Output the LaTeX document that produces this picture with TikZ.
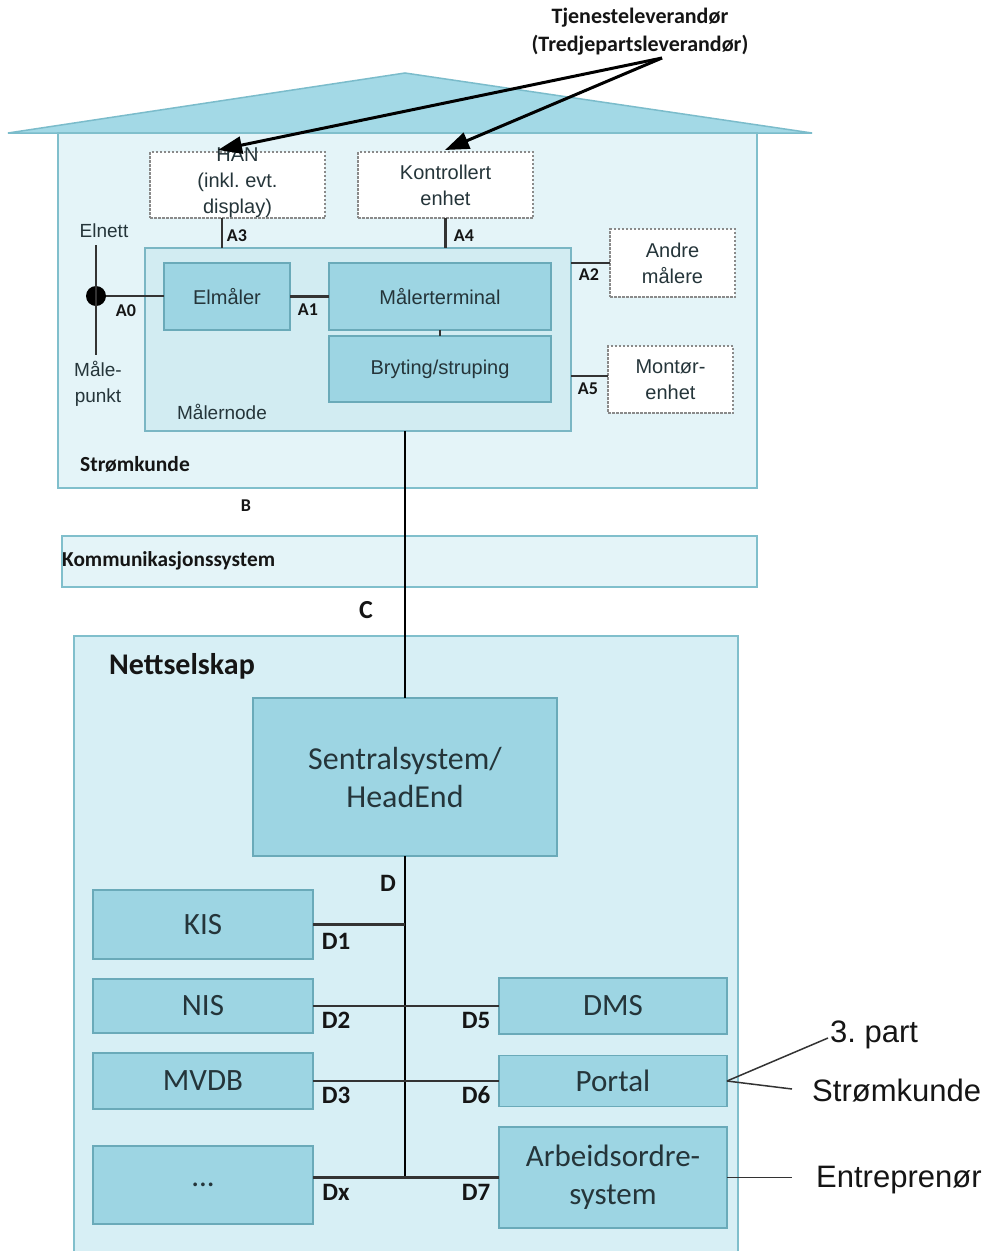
\documentclass[tikz,border=0pt]{standalone}
\usepackage{fontspec}
\setmainfont{Carlito}
\newfontfamily\arialf{Liberation Sans}
\usetikzlibrary{arrows.meta}
\definecolor{roofc}{HTML}{A3D9E6}
\definecolor{roofl}{HTML}{7BBCCB}
\definecolor{housec}{HTML}{E4F4F8}
\definecolor{housel}{HTML}{80BFCC}
\definecolor{nodec}{HTML}{D2ECF2}
\definecolor{nodel}{HTML}{7AB6C4}
\definecolor{innerc}{HTML}{9DD5E3}
\definecolor{innerl}{HTML}{6AAAB9}
\definecolor{netc}{HTML}{D7EFF5}
\definecolor{dashc}{HTML}{8A8A8A}
\definecolor{boxtext}{HTML}{25353A}
\definecolor{labtext}{HTML}{151515}
\definecolor{connc}{HTML}{333333}
\begin{document}
\begin{tikzpicture}[x=1pt,y=-1pt,
  area/.style={draw=housel,fill=housec,line width=1.5pt,inner sep=0pt,outer sep=0pt},
  mnodestyle/.style={draw=nodel,fill=nodec,line width=1.5pt,inner sep=0pt,outer sep=0pt},
  netstyle/.style={draw=housel,fill=netc,line width=1.5pt,inner sep=0pt,outer sep=0pt},
  inbox/.style={draw=innerl,fill=innerc,line width=1.5pt,inner sep=0pt,outer sep=0pt,text=boxtext,align=center},
  smallin/.style={inbox,font={\arialf\fontsize{20}{24}\selectfont}},
  bigin/.style={inbox,font={\fontsize{31}{38}\selectfont}},
  dbox/.style={draw=dashc,fill=white,dash pattern=on 2.5pt off 1.5pt,line width=1.2pt,inner sep=0pt,outer sep=0pt,
    text=boxtext,align=center,font={\arialf\fontsize{20}{26}\selectfont}},
  lab/.style={inner sep=0pt,text=labtext,font={\bfseries\fontsize{18}{20}\selectfont}},
  dlab/.style={inner sep=0pt,text=labtext,font={\bfseries\fontsize{25}{28}\selectfont}},
  plain/.style={inner sep=0pt,text=boxtext,align=center,font={\arialf\fontsize{19}{26}\selectfont}},
  ext/.style={inner sep=0pt,anchor=west,text=labtext,font={\arialf\fontsize{31}{34}\selectfont}},
  conn/.style={draw=connc,line width=2.5pt},
  bus/.style={draw=black,line width=2pt},
  bigarrow/.style={draw=black,line width=3pt,-{Triangle[length=24pt,width=17pt]}}
]
\useasboundingbox (0,0) rectangle (992,1251);
\fill[white] (0,0) rectangle (992,1251);

% house
\draw[fill=roofc,draw=roofl,line width=1.5pt] (8,133) -- (405,73) -- (812,133) -- cycle;
\node[area,minimum width=699pt,minimum height=355pt] (house) at (407.5,310.5) {};

% top text and arrow source
\node[inner sep=0pt,align=center,text=labtext,font={\bfseries\fontsize{22}{28}\selectfont}] (tj) at (640,32)
  {Tjenesteleverandør\\(Tredjepartsleverandør)};
\coordinate (src) at (662,58);
\coordinate (hantip) at (218,150);
\coordinate (kontip) at (445,150);

% dashed boxes
\node[dbox,minimum width=175pt,minimum height=66pt] (han) at (237.5,185) {};
\node[inner sep=0pt,align=center,text=boxtext,font={\arialf\fontsize{20}{26}\selectfont}] (hantext) at (237.5,183) {HAN\\(inkl.\ evt.\\display)};
\node[dbox,minimum width=175pt,minimum height=66pt] (kon) at (445.5,185) {Kontrollert\\enhet};
\node[dbox,minimum width=125pt,minimum height=68pt] (andre) at (672.5,263) {Andre\\målere};
\node[dbox,minimum width=125pt,minimum height=67pt] (montor) at (670.5,379.5) {Montør-\\enhet};

% maalernode
\node[mnodestyle,minimum width=426pt,minimum height=183pt] (mnode) at (358,339.5) {};
\node[smallin,minimum width=126pt,minimum height=67pt] (elm) at (227,296.5) {Elmåler};
\node[smallin,minimum width=222pt,minimum height=67pt] (term) at (440,296.5) {Målerterminal};
\node[smallin,minimum width=222pt,minimum height=66pt] (bryt) at (440,369) {Bryting/struping};
\node[plain] (mnlab) at (222,412) {Målernode};

% Elnett / maalepunkt
\node[plain] (elnett) at (104,231) {Elnett};
\node[plain] (malep) at (98,384) {Måle-\\punkt};
\node[circle,fill=black,inner sep=0pt,minimum size=20pt] (dot) at (96,296) {};
\coordinate (eltop) at (96,245);
\coordinate (elbot) at (96,355);
\draw[conn] (eltop) -- (elbot);
\draw[conn] (dot) -- (elm.west |- dot);

% connectors in house
\coordinate (a3x) at (222,0);
\coordinate (a5y) at (0,376);
\draw[conn] (han.south -| a3x) -- (mnode.north -| a3x);
\draw[conn] (kon.south) -- (kon.south |- mnode.north);
\draw[conn] (elm.east) -- (term.west);
\draw[conn] (term.south) -- (bryt.north);
\draw[conn] (mnode.east |- andre.west) -- (andre.west);
\draw[conn] (mnode.east |- a5y) -- (montor.west |- a5y);

% labels in house
\node[lab] (la3) at (237,236) {A3};
\node[lab] (la4) at (464,236) {A4};
\node[lab] (la0) at (126,311) {A0};
\node[lab] (la1) at (308,310) {A1};
\node[lab] (la2) at (589,275) {A2};
\node[lab] (la5) at (588,389) {A5};
\node[inner sep=0pt,text=labtext,font={\bfseries\fontsize{21.5}{22}\selectfont}] (strk) at (135,464) {Strømkunde};

% B, communication system, C
\node[lab] (lb) at (246,506) {B};
\node[area,minimum width=695pt,minimum height=51pt] (komm) at (409.5,561.5) {};
\node[inner sep=0pt,anchor=west,text=labtext,font={\bfseries\fontsize{21.3}{22}\selectfont}] (kommlab) at (62,561) {Kommunikasjonssystem};
\node[inner sep=0pt,text=labtext,font={\bfseries\fontsize{26}{28}\selectfont}] (lc) at (366,610) {C};

% Nettselskap
\node[netstyle,minimum width=664pt,minimum height=626pt] (net) at (406,949) {};
\node[inner sep=0pt,text=labtext,font={\bfseries\fontsize{30}{32}\selectfont}] (netlab) at (182,666) {Nettselskap};
\node[bigin,minimum width=304pt,minimum height=158pt,font={\fontsize{32}{38}\selectfont}] (sent) at (405,777) {Sentralsystem/\\HeadEnd};
\node[bigin,minimum width=220pt,minimum height=69pt] (kis) at (203,924.5) {KIS};
\node[bigin,minimum width=220pt,minimum height=54pt] (nis) at (203,1006) {NIS};
\node[bigin,minimum width=220pt,minimum height=56pt] (mvdb) at (203,1081) {MVDB};
\node[bigin,minimum width=220pt,minimum height=78pt] (dots) at (203,1185) {...};
\node[bigin,minimum width=228pt,minimum height=56pt] (dms) at (613,1006) {DMS};
\node[bigin,minimum width=228pt,minimum height=51pt] (portal) at (613,1081) {Portal};
\node[bigin,minimum width=228pt,minimum height=101pt] (arb) at (613,1177.5) {Arbeidsordre-\\system};

% main vertical line and bus
\draw[bus] (sent.north |- mnode.south) -- (sent.north);
\coordinate (busend) at (405,1177.5);
\draw[bus] (sent.south) -- (busend);
\draw[conn] (kis.east) -- (kis.east -| sent.south);
\draw[conn] (nis.east) -- (dms.west);
\draw[conn] (mvdb.east) -- (portal.west);
\draw[conn] (dots.east |- arb.west) -- (arb.west);

% D labels
\node[dlab] (ld) at (388,883) {D};
\node[dlab] (ld1) at (336,941) {D1};
\node[dlab] (ld2) at (336,1020) {D2};
\node[dlab] (ld5) at (476,1020) {D5};
\node[dlab] (ld3) at (336,1095) {D3};
\node[dlab] (ld6) at (476,1095) {D6};
\node[dlab] (ldx) at (336,1192) {Dx};
\node[dlab] (ld7) at (476,1192) {D7};

% external actors
\node[ext] (tredje) at (830,1035) {3.\ part};
\node[ext] (skunde) at (812,1091) {Strømkunde};
\node[ext] (entr) at (816,1180) {Entreprenør};
\coordinate (tp) at (828,1038);
\coordinate (sk) at (792,1089);
\coordinate (en) at (792,1177.5);
\draw[draw=connc,line width=1.5pt] (portal.east) -- (tp);
\draw[draw=connc,line width=1.5pt] (portal.east) -- (sk);
\draw[draw=connc,line width=1.5pt] (arb.east) -- (en);

% arrows from service provider
\draw[bigarrow] (src) -- (hantip);
\draw[bigarrow] (src) -- (kontip);
\end{tikzpicture}
\end{document}
